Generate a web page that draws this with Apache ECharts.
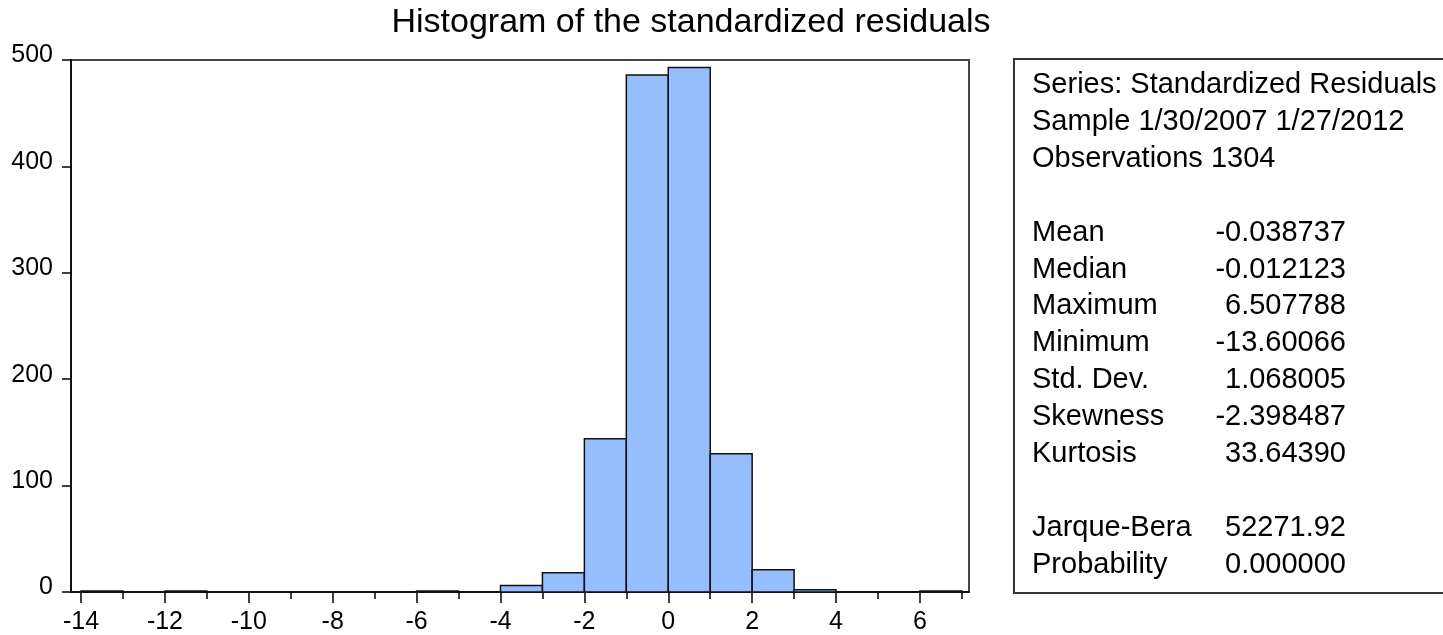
<!DOCTYPE html>
<html>
<head>
<meta charset="utf-8">
<script src="https://cdn.jsdelivr.net/npm/echarts@6/dist/echarts.min.js"></script>
<style>
html,body{margin:0;padding:0;background:#fff;}
#chart{width:1443px;height:635px;}
</style>
</head>
<body>
<div id="chart"></div>
<script>
// ---- data ----
const titleText = 'Histogram of the standardized residuals';
const binStarts = [-14, -13, -12, -11, -10, -9, -8, -7, -6, -5, -4, -3, -2, -1, 0, 1, 2, 3, 4, 5, 6];
const binCounts = [1, 0, 1, 0, 0, 0, 0, 0, 1, 0, 6, 18, 144, 486, 493, 130, 21, 2, 0, 0, 1];
const binWidth = 1;
const xMajorTicks = [-14, -12, -10, -8, -6, -4, -2, 0, 2, 4, 6];
const xMinorTicks = [-13, -11, -9, -7, -5, -3, -1, 1, 3, 5, 7];
const headerLines = ['Series: Standardized Residuals', 'Sample 1/30/2007 1/27/2012', 'Observations 1304'];
const statLabels = ['Mean', 'Median', 'Maximum', 'Minimum', 'Std. Dev.', 'Skewness', 'Kurtosis'];
const statValues = ['-0.038737', '-0.012123', '6.507788', '-13.60066', '1.068005', '-2.398487', '33.64390'];
const testLabels = ['Jarque-Bera', 'Probability'];
const testValues = ['52271.92', '0.000000'];

// ---- chart ----
const FONT = '"Liberation Sans", Arial, sans-serif';
const histData = binStarts.map((s, i) => [s, s + binWidth, binCounts[i]]);

const lineY = k => 85 + 36.9 * k;
const graphics = [];
graphics.push({
  type: 'rect', silent: true,
  shape: { x: 1014, y: 59, width: 440, height: 534 },
  style: { fill: 'none', stroke: '#333', lineWidth: 2 }
});
function addText(txt, x, y, align) {
  graphics.push({
    type: 'text', x: x, y: y, silent: true,
    style: { text: txt, font: '29px ' + FONT, fill: '#000', textAlign: align, textVerticalAlign: 'middle',
             textStroke: '#000', textStrokeWidth: 0.3 }
  });
}
headerLines.forEach((t, i) => addText(t, 1032, lineY(i), 'left'));
statLabels.forEach((t, i) => { addText(t, 1032, lineY(4 + i), 'left'); addText(statValues[i], 1346, lineY(4 + i), 'right'); });
testLabels.forEach((t, i) => { addText(t, 1032, lineY(12 + i), 'left'); addText(testValues[i], 1346, lineY(12 + i), 'right'); });
graphics.push({
  type: 'text', x: 691, y: 23, silent: true,
  style: { text: titleText, font: '34px ' + FONT, fill: '#000', textAlign: 'center', textVerticalAlign: 'middle' }
});

const chart = echarts.init(document.getElementById('chart'));
chart.setOption({
  animation: false,
  backgroundColor: '#fff',
  grid: { left: 71, right: 474, top: 60, bottom: 41, show: true, borderColor: '#444', borderWidth: 2, backgroundColor: 'transparent' },
  xAxis: [{
    type: 'value', min: -14.24, max: 7.17, position: 'bottom',
    axisLine: { show: true, onZero: false, lineStyle: { color: '#000', width: 1.5 } },
    axisTick: { show: true, inside: false, length: 11, customValues: xMajorTicks, lineStyle: { color: '#000', width: 1.5 } },
    axisLabel: { show: true, customValues: xMajorTicks, margin: 18, fontFamily: FONT, fontSize: 25, color: '#000' },
    splitLine: { show: false }
  }, {
    type: 'value', min: -14.24, max: 7.17, position: 'bottom',
    axisLine: { show: false },
    axisTick: { show: true, inside: false, length: 7, customValues: xMinorTicks, lineStyle: { color: '#000', width: 1.5 } },
    axisLabel: { show: false },
    splitLine: { show: false }
  }],
  yAxis: {
    type: 'value', min: 0, max: 500, interval: 100,
    axisLine: { show: true, onZero: false, lineStyle: { color: '#000', width: 1.5 } },
    axisTick: { show: true, inside: false, length: 9, lineStyle: { color: '#000', width: 1.5 } },
    axisLabel: { margin: 18, fontFamily: FONT, fontSize: 25, color: '#000', verticalAlign: 'bottom', lineHeight: 9 },
    splitLine: { show: false }
  },
  series: [{
    type: 'custom',
    xAxisIndex: 0, yAxisIndex: 0,
    data: histData,
    encode: { x: [0, 1], y: 2 },
    renderItem: function (params, api) {
      const cnt = api.value(2);
      if (!cnt) return null;
      const p0 = api.coord([api.value(0), cnt]);
      const p1 = api.coord([api.value(1), 0]);
      return {
        type: 'rect',
        shape: { x: p0[0], y: p0[1], width: p1[0] - p0[0], height: p1[1] - p0[1] },
        style: { fill: '#96BEFF', stroke: '#111', lineWidth: 1.5 }
      };
    }
  }],
  graphic: graphics
});
</script>
</body>
</html>
